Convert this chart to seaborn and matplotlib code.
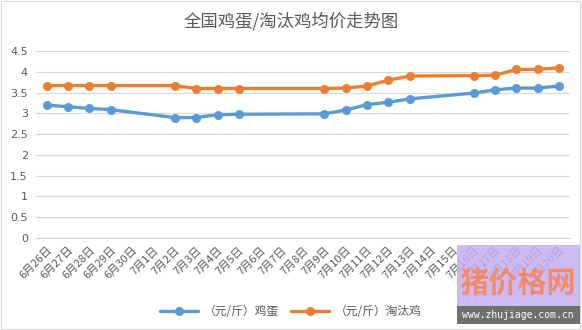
import numpy as np
import pandas as pd
import matplotlib
matplotlib.use("Agg")
import matplotlib.pyplot as plt
import seaborn as sns
from matplotlib.patches import Rectangle

dates = ["6月26日", "6月27日", "6月28日", "6月29日", "6月30日", "7月1日", "7月2日",
         "7月3日", "7月4日", "7月5日", "7月6日", "7月7日", "7月8日", "7月9日",
         "7月10日", "7月11日", "7月12日", "7月13日", "7月14日", "7月15日",
         "7月16日", "7月17日", "7月18日", "7月19日", "7月20日"]
obs_dates = ["6月26日", "6月27日", "6月28日", "6月29日", "7月2日", "7月3日", "7月4日",
             "7月5日", "7月9日", "7月10日", "7月11日", "7月12日", "7月13日",
             "7月16日", "7月17日", "7月18日", "7月19日", "7月20日"]
egg = [3.20, 3.16, 3.12, 3.09, 2.90, 2.90, 2.97, 2.98, 2.99, 3.08, 3.21, 3.27, 3.35,
       3.49, 3.57, 3.61, 3.61, 3.66]
hen = [3.67, 3.67, 3.67, 3.67, 3.67, 3.60, 3.60, 3.60, 3.60, 3.61, 3.66, 3.80, 3.90,
       3.91, 3.92, 4.06, 4.06, 4.10]
series_names = ["（元/斤）鸡蛋", "（元/斤）淘汰鸡"]
yticks = [0, 0.5, 1, 1.5, 2, 2.5, 3, 3.5, 4, 4.5]
title = "全国鸡蛋/淘汰鸡均价走势图"

sns.set_style("white")
plt.rcParams['font.family'] = ['Noto Sans CJK SC', 'DejaVu Sans']

pos = [dates.index(d) for d in obs_dates]
df = pd.DataFrame({
    "x": pos * 2,
    "v": egg + hen,
    "s": [series_names[0]] * len(egg) + [series_names[1]] * len(hen),
})

fig = plt.figure(figsize=(5.82, 3.30), dpi=100)
ax = fig.add_axes([0.062, 0.279, 0.917, 0.566])
palette = {series_names[0]: "#5B9BD5", series_names[1]: "#ED7D31"}
sns.lineplot(data=df, x="x", y="v", hue="s", palette=palette, marker="o",
             markersize=6.5, linewidth=2.4, markeredgewidth=0, ax=ax, legend=True)

ax.set_xlim(-0.5, len(dates) - 0.5)
ax.set_ylim(0, 4.5)
ax.set_yticks(yticks)
ax.set_yticklabels([("%g" % t) for t in yticks], color="#595959", fontsize=8,
                   family=['DejaVu Sans'])
ax.yaxis.grid(True, color="#D9D9D9", linewidth=0.9)
ax.set_axisbelow(True)
ax.set_xticks(range(len(dates)))
ax.set_xticklabels(dates, rotation=45, ha="right", rotation_mode="anchor",
                   fontsize=8, color="#595959")
ax.set_xticks(np.arange(-0.5, len(dates), 1), minor=True)
ax.tick_params(axis="x", which="major", length=0, pad=5)
ax.tick_params(axis="x", which="minor", length=4, color="#D9D9D9", width=0.9)
ax.tick_params(axis="y", length=0, pad=6)
for side in ["top", "right", "left"]:
    ax.spines[side].set_visible(False)
ax.spines["bottom"].set_color("#D9D9D9")
ax.set_xlabel("")
ax.set_ylabel("")

fig.text(0.5, 0.935, title, ha="center", va="center", fontsize=12.5, color="#595959")

handles, labels = ax.get_legend_handles_labels()
ax.legend(handles, labels, loc="center", bbox_to_anchor=(0.5, 0.055),
          bbox_transform=fig.transFigure, ncol=2, frameon=False, fontsize=8.5,
          labelcolor="#595959", handlelength=3.2, columnspacing=1.0, handletextpad=0.5)

# border
fig.patches.append(Rectangle((0.001, 0.003), 0.995, 0.994, transform=fig.transFigure,
                             fill=False, edgecolor="#D9D9D9", linewidth=0.8))

# watermark
fig.patches.append(Rectangle((457 / 582, 1 - 306 / 330), 123 / 582, 61 / 330,
                             transform=fig.transFigure, facecolor="#C4B0F0",
                             edgecolor="none", alpha=0.85, zorder=5))
fig.patches.append(Rectangle((457 / 582, 1 - 324 / 330), 123 / 582, 18 / 330,
                             transform=fig.transFigure, facecolor="#707070",
                             edgecolor="none", zorder=5))
fig.text(518 / 582, 1 - 283 / 330, "猪价格网", ha="center", va="center", fontsize=21,
         color="#F58A6A", fontweight="bold", zorder=6)
fig.text(518 / 582, 1 - 315 / 330, "www.zhujiage.com.cn", ha="center", va="center",
         fontsize=7, color="white", family=["DejaVu Sans Mono"], zorder=6)

fig.savefig("out.png", dpi=100)
